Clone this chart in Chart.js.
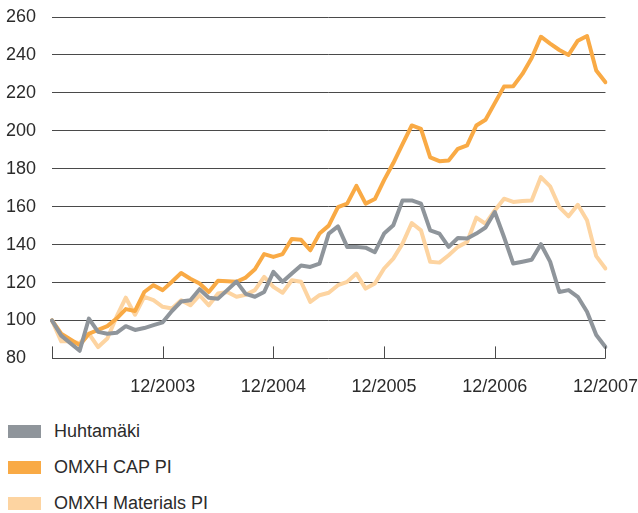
<!DOCTYPE html>
<html>
<head>
<meta charset="utf-8">
<script src="https://cdn.jsdelivr.net/npm/chart.js@4"></script>
<style>
  body { margin: 0; background: #fff; font-family: "Liberation Sans", Arial, sans-serif; }
  #wrap { position: absolute; left: 0; top: 0; width: 638px; height: 402px; }
  #legend { position: absolute; left: 0; top: 0; width: 638px; }
  .item { position: absolute; left: 8px; height: 13px; display: flex; align-items: center; }
  .swatch { width: 33px; height: 13px; margin-right: 13px; }
  .label { font-size: 18px; color: #2b2b2b; white-space: nowrap; }
</style>
</head>
<body>
<div id="wrap"><canvas id="chart"></canvas></div>
<div id="legend"></div>
<script>
const months = [
  '12/2002',
  '1/2003', '2/2003', '3/2003', '4/2003', '5/2003', '6/2003', '7/2003', '8/2003', '9/2003', '10/2003', '11/2003', '12/2003',
  '1/2004', '2/2004', '3/2004', '4/2004', '5/2004', '6/2004', '7/2004', '8/2004', '9/2004', '10/2004', '11/2004', '12/2004',
  '1/2005', '2/2005', '3/2005', '4/2005', '5/2005', '6/2005', '7/2005', '8/2005', '9/2005', '10/2005', '11/2005', '12/2005',
  '1/2006', '2/2006', '3/2006', '4/2006', '5/2006', '6/2006', '7/2006', '8/2006', '9/2006', '10/2006', '11/2006', '12/2006',
  '1/2007', '2/2007', '3/2007', '4/2007', '5/2007', '6/2007', '7/2007', '8/2007', '9/2007', '10/2007', '11/2007', '12/2007'
];
const tickLabels = ['12/2003', '12/2004', '12/2005', '12/2006', '12/2007'];
const tickMarks = ['12/2002', '12/2003', '12/2004', '12/2005', '12/2006', '12/2007'];

const seriesNames = ['Huhtamäki', 'OMXH CAP PI', 'OMXH Materials PI'];
const seriesColors = ['#8f959b', '#f9aa45', '#fdd4a1'];

const huhtamaki = [100, 92, 88, 84, 101, 94, 93, 93.5, 97, 95, 96, 97.5, 99, 105, 110, 110.7, 116.5, 112, 111.5, 116,
  120.5, 114, 112.5, 115, 125.6, 120.4, 124.7, 129, 128.2, 130, 145.8, 149.6, 138.8, 138.8, 138.4, 136, 145.8, 150.2,
  163.3, 163.3, 161.6, 147.5, 145.8, 138.8, 143.5, 143.2, 145.8, 149, 157.2, 144, 130, 131, 132, 140.2, 131, 115, 116,
  112.5, 104.6, 92.3, 86];
const capPI = [100, 93, 90, 87, 93, 95, 97, 101, 106, 105, 115, 118.6, 116, 120.4, 125, 122, 119.5, 115, 121, 120.7,
  120.4, 122.6, 127, 135, 133.5, 135, 143, 142.5, 137, 145.8, 150, 159.8, 161.6, 171, 161.6, 164, 174, 183, 193, 202.8,
  201, 186, 184, 184.4, 190.5, 192.3, 202.8, 205.8, 214.6, 223.3, 223.5, 230, 238.4, 249.6, 246, 242.6, 240, 247.5, 250,
  231.8, 225.6];
const materialsPI = [100, 89, 89, 88, 93, 86, 90.5, 102, 112, 103, 112.5, 110.7, 107.2, 106.3, 110.7, 108, 113.3, 108,
  114.2, 115, 112.5, 113.5, 116, 123, 117.7, 114.6, 121.2, 120.4, 109.8, 113.3, 114.6, 118.6, 120.4, 124.7, 116.8, 119.5,
  127.4, 132.6, 140.5, 151.4, 147.5, 130.9, 130.5, 134.4, 138.8, 141.4, 154.2, 151, 158, 164.2, 162.5, 163, 163.3, 175.6,
  170.7, 159.8, 154.9, 161, 152.8, 133.9, 127.4];

const gridColor = '#4a4a4a';
const textColor = '#2b2b2b';

// small tick marks pointing up from the x axis at each December
const xTickMarks = {
  id: 'xTickMarks',
  afterDatasetsDraw(chart) {
    const { ctx, chartArea, scales } = chart;
    ctx.save();
    ctx.strokeStyle = gridColor;
    ctx.lineWidth = 1;
    months.forEach((m, i) => {
      if (!tickMarks.includes(m)) return;
      const x = Math.round(scales.x.getPixelForValue(i)) + 0.5;
      ctx.beginPath();
      ctx.moveTo(x, chartArea.bottom);
      ctx.lineTo(x, chartArea.bottom - 12);
      ctx.stroke();
    });
    ctx.restore();
  }
};

function makeDataset(i, data) {
  return {
    label: seriesNames[i],
    data,
    borderColor: seriesColors[i],
    backgroundColor: seriesColors[i],
    borderWidth: 4,
    pointRadius: 0,
    tension: 0,
    borderJoinStyle: 'round',
    borderCapStyle: 'round'
  };
}

Chart.defaults.font.family = '"Liberation Sans", Arial, sans-serif';
Chart.defaults.font.size = 18;
Chart.defaults.color = textColor;

new Chart(document.getElementById('chart'), {
  type: 'line',
  data: {
    labels: months,
    datasets: [makeDataset(0, huhtamaki), makeDataset(1, capPI), makeDataset(2, materialsPI)]
  },
  options: {
    responsive: true,
    maintainAspectRatio: false,
    animation: false,
    layout: { padding: { left: 6, top: 17, right: 0, bottom: 4 } },
    plugins: { legend: { display: false }, tooltip: { enabled: false } },
    scales: {
      x: {
        // invisible tick length only pushes the labels down
        grid: { display: true, drawOnChartArea: false, drawTicks: true, tickLength: 18, color: 'rgba(0,0,0,0)' },
        border: { display: false },
        ticks: {
          autoSkip: false,
          maxRotation: 0,
          padding: 0,
          callback: (v, i) => tickLabels.includes(months[i]) ? months[i] : null
        }
      },
      y: {
        min: 80,
        max: 260,
        ticks: { stepSize: 20, crossAlign: 'far', padding: 0 },
        grid: { color: gridColor, lineWidth: 1, drawTicks: false },
        border: { display: false },
        afterFit: scale => { scale.width = 46; }
      }
    }
  },
  plugins: [xTickMarks]
});

const legend = document.getElementById('legend');
seriesNames.forEach((name, i) => {
  const row = document.createElement('div');
  row.className = 'item';
  row.style.top = (425 + i * 36.2) + 'px';
  row.innerHTML = '<div class="swatch" style="background:' + seriesColors[i] + '"></div><span class="label">' + name + '</span>';
  legend.appendChild(row);
});
</script>
</body>
</html>
